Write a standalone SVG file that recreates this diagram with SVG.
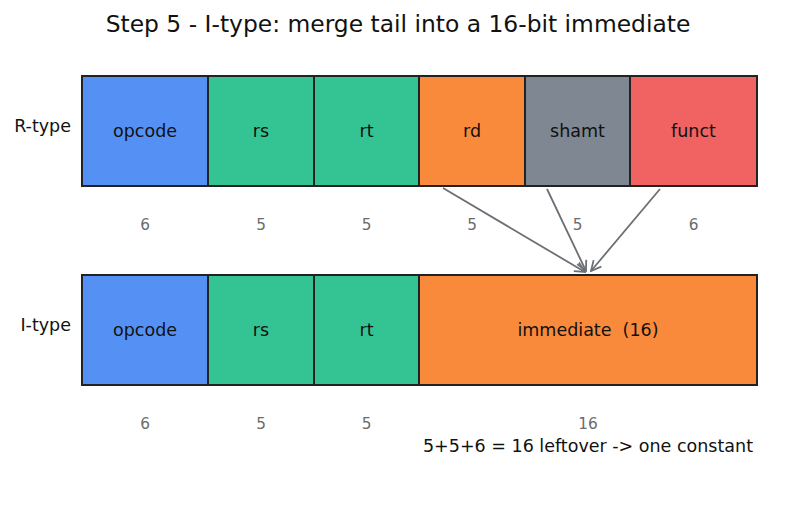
<svg xmlns="http://www.w3.org/2000/svg" width="791" height="510" viewBox="0 0 791 510">
<defs>
<style>
text{font-family:"DejaVu Sans","Liberation Sans",sans-serif}
.f{stroke:#222;stroke-width:2}
.lbl{font-size:17.5px;fill:#111;text-anchor:middle;dominant-baseline:central}
.bits{font-size:15.3px;fill:#6b6b6b;text-anchor:middle;dominant-baseline:central}
.row{font-size:17.5px;fill:#111;text-anchor:end;dominant-baseline:central}
.blue{fill:#5591f5}.green{fill:#34c494}.orange{fill:#f98a3b}.gray{fill:#7f8792}.red{fill:#f16262}
.arr{stroke:#6b7075;stroke-width:1.8;fill:none;marker-end:url(#ah)}
</style>
<marker id="ah" viewBox="0 0 12 12" refX="11" refY="6" markerWidth="12" markerHeight="12" markerUnits="userSpaceOnUse" orient="auto">
<path d="M1,1 L11,6 L1,11" fill="none" stroke="#6b7075" stroke-width="1.8"/>
</marker>
</defs>
<rect width="791" height="510" fill="#fff"/>
<text x="398" y="24" font-size="23.4" fill="#111" text-anchor="middle" dominant-baseline="central">Step 5 - I-type: merge tail into a 16-bit immediate</text>
<text class="row" x="71" y="126">R-type</text>
<text class="row" x="71" y="325">I-type</text>
<g id="r-opcode"><rect class="f blue" x="82" y="76" width="126" height="110"/><text class="lbl" x="145" y="131">opcode</text><text class="bits" x="145" y="225">6</text></g>
<g id="r-rs"><rect class="f green" x="208" y="76" width="106" height="110"/><text class="lbl" x="261" y="131">rs</text><text class="bits" x="261" y="225">5</text></g>
<g id="r-rt"><rect class="f green" x="314" y="76" width="105" height="110"/><text class="lbl" x="366.5" y="131">rt</text><text class="bits" x="366.5" y="225">5</text></g>
<g id="r-rd"><rect class="f orange" x="419" y="76" width="106" height="110"/><text class="lbl" x="472" y="131">rd</text><text class="bits" x="472" y="225">5</text></g>
<g id="r-shamt"><rect class="f gray" x="525" y="76" width="105" height="110"/><text class="lbl" x="577.5" y="131">shamt</text><text class="bits" x="577.5" y="225">5</text></g>
<g id="r-funct"><rect class="f red" x="630" y="76" width="127" height="110"/><text class="lbl" x="693.5" y="131">funct</text><text class="bits" x="693.5" y="225">6</text></g>
<g id="i-opcode"><rect class="f blue" x="82" y="275" width="126" height="110"/><text class="lbl" x="145" y="330">opcode</text><text class="bits" x="145" y="424">6</text></g>
<g id="i-rs"><rect class="f green" x="208" y="275" width="106" height="110"/><text class="lbl" x="261" y="330">rs</text><text class="bits" x="261" y="424">5</text></g>
<g id="i-rt"><rect class="f green" x="314" y="275" width="105" height="110"/><text class="lbl" x="366.5" y="330">rt</text><text class="bits" x="366.5" y="424">5</text></g>
<g id="i-imm"><rect class="f orange" x="419" y="275" width="338" height="110"/><text class="lbl" x="588" y="330" xml:space="preserve">immediate  (16)</text><text class="bits" x="588" y="424">16</text></g>
<g id="connectors">
<line class="arr" x1="443" y1="188" x2="585" y2="272"/>
<line class="arr" x1="547" y1="189" x2="586" y2="271"/>
<line class="arr" x1="660" y1="189" x2="591" y2="271"/>
</g>
<text x="588" y="446" font-size="17.5" fill="#111" text-anchor="middle" dominant-baseline="central">5+5+6 = 16 leftover -&gt; one constant</text>
</svg>
